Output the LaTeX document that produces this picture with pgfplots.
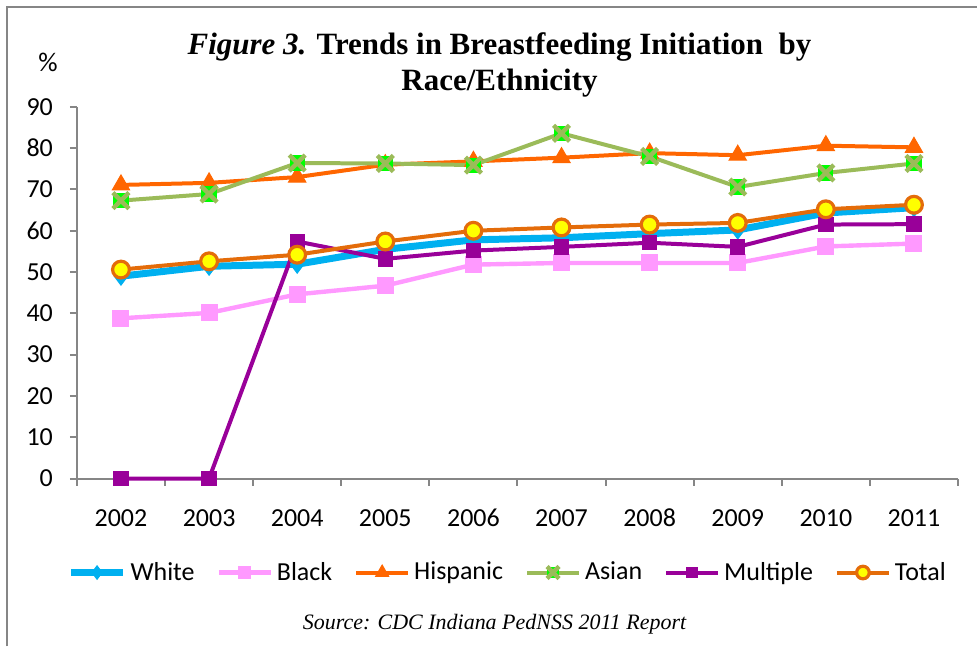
\documentclass[border=0pt]{standalone}
\usepackage{pgfplots}
\pgfplotsset{compat=1.18}
\usepackage{fontspec}
\setmainfont{Carlito}
\newfontfamily\tnr{Liberation Serif}
\definecolor{cWhite}{HTML}{00B0F0}
\definecolor{cBlack}{HTML}{FF99FF}
\definecolor{cHisp}{HTML}{FF6600}
\definecolor{cAsian}{HTML}{9BBB59}
\definecolor{cAsianFill}{HTML}{00FF00}
\definecolor{cMult}{HTML}{990099}
\definecolor{cTotal}{HTML}{E46C0A}
\definecolor{cTotalFill}{HTML}{FFFF00}
\definecolor{axgray}{HTML}{868686}
\pgfdeclareplotmark{greenx}{%
  \pgfpathrectangle{\pgfpoint{-3.8pt}{-3.8pt}}{\pgfpoint{7.6pt}{7.6pt}}%
  \pgfsetfillcolor{cAsianFill}\pgfusepath{fill}%
  \pgfsetstrokecolor{cAsian}\pgfsetlinewidth{2.2pt}\pgfsetbuttcap%
  \pgfpathmoveto{\pgfpoint{-4pt}{-4pt}}\pgfpathlineto{\pgfpoint{4pt}{4pt}}%
  \pgfpathmoveto{\pgfpoint{-4pt}{4pt}}\pgfpathlineto{\pgfpoint{4pt}{-4pt}}%
  \pgfusepath{stroke}%
}
\begin{document}
\begin{tikzpicture}
\path (-38.5pt,-84pt) rectangle (450.5pt,239.5pt);
\draw[axgray, line width=1pt] (-35pt,-84pt) -- (-35pt,236pt) -- (450.5pt,236pt);
\begin{axis}[
  at={(0,0)}, anchor=south west,
  scale only axis, width=441pt, height=186pt,
  xmin=-0.5, xmax=9.5, ymin=0, ymax=90,
  axis x line=bottom, axis y line=left,
  axis line style={-, axgray, line width=1pt},
  xtick={0,...,9},
  xticklabels={2002,2003,2004,2005,2006,2007,2008,2009,2010,2011},
  minor xtick={-0.5,0.5,...,9.5},
  major x tick style={draw=none},
  minor tick length=3.5pt,
  ytick={0,10,...,90},
  major tick length=3.5pt,
  tick align=outside,
  tick style={axgray, line width=1pt},
  /pgf/number format/assume math mode=true,
  tick label style={font=\fontsize{13}{15}\selectfont},
  yticklabel style={xshift=-5pt},
  xticklabel style={yshift=-8pt, text height=9pt, text depth=0pt},
  legend columns=6,
  legend style={at={(0.49,-0.253)}, anchor=center, draw=none, fill=none,
    font=\fontsize{13}{15}\selectfont,
    /tikz/every even column/.append style={column sep=9pt}},
  legend image code/.code={\draw[mark repeat=2,mark phase=2, every mark/.append style={scale=0.75}] plot coordinates {(0pt,0pt) (13pt,0pt) (26pt,0pt)};},
  clip=false,
]
\addplot[cWhite, line width=3.5pt, mark=diamond*, mark size=4.5pt, mark options={line width=0.5pt, fill=cWhite}] coordinates {
(0,49.0) (1,51.4) (2,51.9) (3,55.5) (4,57.8) (5,58.3) (6,59.3) (7,60.2) (8,64.3) (9,65.6)};
\addlegendentry{White}
\addplot[cBlack, line width=2.2pt, mark=square*, mark size=4pt, mark options={line width=0.5pt, fill=cBlack}] coordinates {
(0,38.8) (1,40.1) (2,44.6) (3,46.7) (4,51.8) (5,52.2) (6,52.2) (7,52.2) (8,56.2) (9,56.9)};
\addlegendentry{Black}
\addplot[cHisp, line width=2pt, mark=triangle*, mark size=5pt, mark options={line width=0.5pt, fill=cHisp}] coordinates {
(0,71.1) (1,71.6) (2,73.0) (3,76.0) (4,76.8) (5,77.7) (6,78.8) (7,78.3) (8,80.6) (9,80.2)};
\addlegendentry{Hispanic}
\addplot[cAsian, line width=2pt, mark=greenx] coordinates {
(0,67.3) (1,68.9) (2,76.4) (3,76.3) (4,75.9) (5,83.6) (6,78.0) (7,70.6) (8,74.0) (9,76.3)};
\addlegendentry{Asian}
\addplot[cMult, line width=2pt, mark=square*, mark size=3.6pt, mark options={line width=0.5pt, fill=cMult}] coordinates {
(0,0) (1,0) (2,57.4) (3,53.2) (4,55.2) (5,56.1) (6,57.1) (7,56.1) (8,61.5) (9,61.6)};
\addlegendentry{Multiple}
\addplot[cTotal, line width=2pt, mark=*, mark size=4.2pt, mark options={line width=1.6pt, draw=cTotal, fill=cTotalFill}] coordinates {
(0,50.6) (1,52.6) (2,54.2) (3,57.4) (4,60.0) (5,60.8) (6,61.5) (7,61.9) (8,65.2) (9,66.3)};
\addlegendentry{Total}
\end{axis}
\node[font=\fontsize{13.5}{15}\selectfont] at (-14.5pt,208.5pt) {\%};
\node[align=center, font=\tnr\bfseries\fontsize{15.5}{18.5}\selectfont] at (211.5pt,207pt)
  {\textit{Figure 3.} Trends in Breastfeeding Initiation\ \ by\\ Race/Ethnicity};
\node[font=\tnr\itshape\fontsize{11}{13}\selectfont] at (209pt,-73pt) {Source: CDC Indiana PedNSS 2011 Report};
\end{tikzpicture}
\end{document}
